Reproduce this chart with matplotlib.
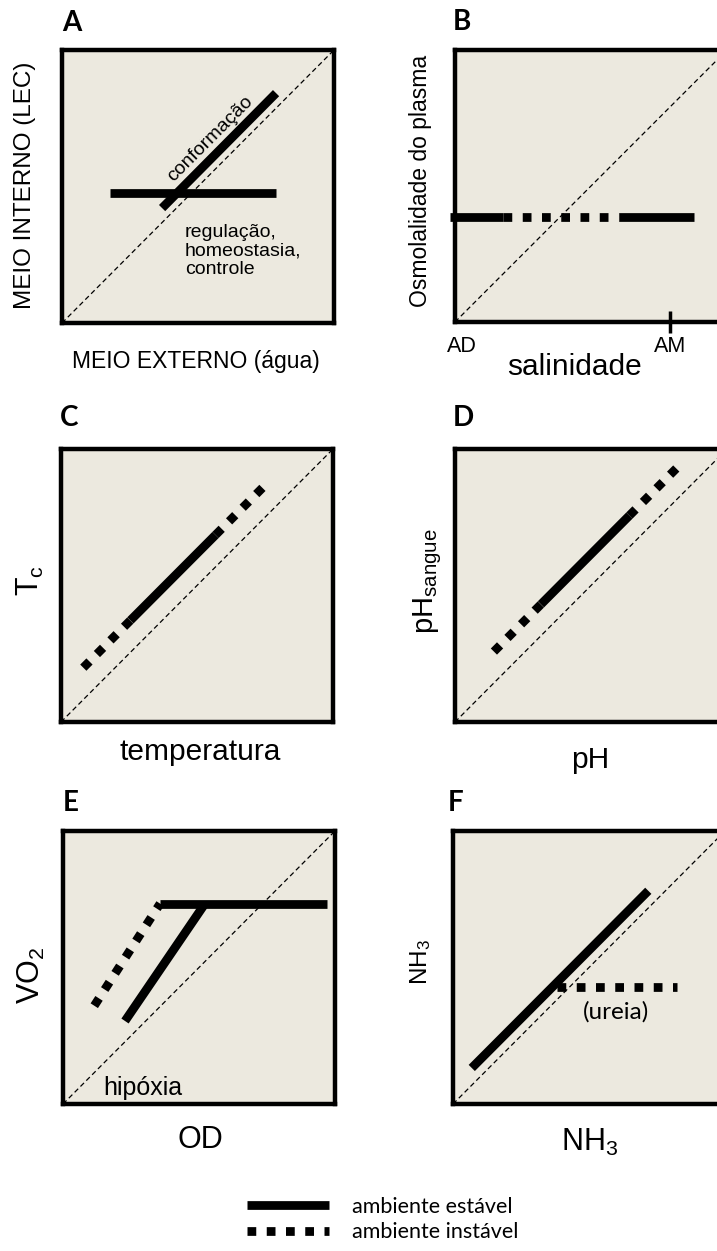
import matplotlib
matplotlib.use("Agg")
import matplotlib.pyplot as plt
from matplotlib.lines import Line2D

plt.rcParams['mathtext.default'] = 'regular'

W, H = 717, 1251
BG = '#ECE9DF'
ARIAL = 'Liberation Sans'
CALIBRI = 'Lato'

LW = 6.3
DOTS = (0, (1, 1.2))

# panel A: regulação (horizontal) e conformação (paralela à diagonal)
reg_x = [0.176, 0.787]
reg_y = [0.476, 0.476]
conf_x = [0.368, 0.787]
conf_y = [0.421, 0.842]

# panel B: osmolalidade constante ao longo da salinidade
osmo_y = 0.386
osmo_solid_x = [[-0.018, 0.176], [0.604, 0.880]]
osmo_dot_x = [0.176, 0.604]
am_x = 0.79

# panel C: Tc acompanha a temperatura
tc_off = 0.117
tc_solid_x = [0.255, 0.568]
tc_dot_x = [[0.082, 0.255], [0.568, 0.750]]

# panel D: pH sangue
ph_off = 0.115
ph_solid_x = [0.316, 0.641]
ph_dot_x = [[0.143, 0.316], [0.641, 0.815]]

# panel E: VO2 x OD
vo_plateau_x = [0.357, 0.971]
vo_plateau_y = [0.734, 0.734]
vo_solid_x = [0.228, 0.522]
vo_solid_y = [0.304, 0.734]
vo_dot_x = [0.115, 0.357]
vo_dot_y = [0.360, 0.734]

# panel F: NH3
nh_solid_x = [0.069, 0.718]
nh_solid_y = [0.132, 0.781]
nh_dot_x = [0.381, 0.822]
nh_dot_y = [0.429, 0.429]

fig = plt.figure(figsize=(W / 100, H / 100), dpi=100)


def box(left, top, w=272, h=273):
    return [left / W, 1 - (top + h) / H, w / W, h / H]


def ft(x, y, s, **kw):
    fig.text(x / W, 1 - y / H, s, **kw)


def painel(rect):
    ax = fig.add_axes(rect)
    ax.set_facecolor(BG)
    ax.set_xlim(0, 1)
    ax.set_ylim(0, 1)
    ax.set_xticks([])
    ax.set_yticks([])
    for s in ax.spines.values():
        s.set_linewidth(3.2)
        s.set_color('black')
    ax.plot([0, 1], [0, 1], color='black', lw=0.9, ls=(0, (4, 2.6)), zorder=1)
    return ax


def solido(ax, x, y, **kw):
    ax.plot(x, y, color='black', lw=LW, solid_capstyle='butt', zorder=3, **kw)


def pontilhado(ax, x, y, **kw):
    ax.plot(x, y, color='black', lw=LW, ls=DOTS, dash_capstyle='butt', zorder=3, **kw)


# A
axA = painel(box(62, 50))
solido(axA, reg_x, reg_y)
solido(axA, conf_x, conf_y)
axA.text(0.544, 0.674, 'conformação', rotation=45, rotation_mode='anchor',
         ha='center', va='center', family=ARIAL, fontsize=14)
ft(185, 251, 'regulação,\nhomeostasia,\ncontrole', ha='left', va='center',
   family=ARIAL, fontsize=14, linespacing=1.1)

# B
axB = painel(box(455, 50, h=272))
for xs in osmo_solid_x:
    solido(axB, xs, [osmo_y, osmo_y], clip_on=False)
pontilhado(axB, osmo_dot_x, [osmo_y, osmo_y])
axB.set_xticks([am_x])
axB.tick_params(axis='x', direction='inout', length=16.5, width=2.5,
                labelbottom=False, color='black')

# C
axC = painel(box(61, 449))
solido(axC, tc_solid_x, [v + tc_off for v in tc_solid_x])
for xs in tc_dot_x:
    pontilhado(axC, xs, [v + tc_off for v in xs])

# D
axD = painel(box(455, 449))
solido(axD, ph_solid_x, [v + ph_off for v in ph_solid_x])
for xs in ph_dot_x:
    pontilhado(axD, xs, [v + ph_off for v in xs])

# E
axE = painel(box(63, 831))
solido(axE, vo_plateau_x, vo_plateau_y)
solido(axE, vo_solid_x, vo_solid_y)
pontilhado(axE, vo_dot_x, vo_dot_y)
ft(103, 1088, 'hipóxia', ha='left', va='center', family=ARIAL, fontsize=18)

# F
axF = painel(box(453, 831))
solido(axF, nh_solid_x, nh_solid_y)
pontilhado(axF, nh_dot_x, nh_dot_y)
ft(616, 1012, '(ureia)', ha='center', va='center', family=CALIBRI, fontsize=17.5)

# letras dos painéis
for lx, ly, s in [(62, 23, 'A'), (453, 22, 'B'), (60, 418, 'C'),
                  (453, 418, 'D'), (63, 803, 'E'), (448, 803, 'F')]:
    ft(lx, ly, s, ha='left', va='center', family=CALIBRI, fontweight='bold', fontsize=20)

# rótulos dos eixos
ft(25, 185, 'MEIO INTERNO (LEC)', rotation=90, ha='center', va='center', family=ARIAL, fontsize=17.5)
ft(196, 361, 'MEIO EXTERNO (água)', ha='center', va='center', family=ARIAL, fontsize=16.5)
ft(421, 181, 'Osmolalidade do plasma', rotation=90, ha='center', va='center', family=ARIAL, fontsize=16.5)
ft(462, 346, 'AD', ha='center', va='center', family=ARIAL, fontsize=15.5)
ft(670, 346, 'AM', ha='center', va='center', family=ARIAL, fontsize=15.5)
ft(575, 367, 'salinidade', ha='center', va='center', family=ARIAL, fontsize=21.5)
ft(30, 580, 'T$_c$', rotation=90, ha='center', va='center', family=ARIAL, fontsize=22)
ft(200, 752, 'temperatura', ha='center', va='center', family=ARIAL, fontsize=21.5)
ft(428, 581, 'pH$_{sangue}$', rotation=90, ha='center', va='center', family=ARIAL, fontsize=21)
ft(590, 760, 'pH', ha='center', va='center', family=ARIAL, fontsize=21.5)
ft(31, 975, 'VO$_2$', rotation=90, ha='center', va='center', family=ARIAL, fontsize=22)
ft(200, 1140, 'OD', ha='center', va='center', family=ARIAL, fontsize=22)
ft(421, 962, 'NH$_3$', rotation=90, ha='center', va='center', family=ARIAL, fontsize=17.5)
ft(590, 1142, 'NH$_3$', ha='center', va='center', family=ARIAL, fontsize=22)

# legenda
handles = [Line2D([], [], color='black', lw=LW, solid_capstyle='butt'),
           Line2D([], [], color='black', lw=LW, ls=DOTS, dash_capstyle='butt')]
fig.legend(handles, ['ambiente estável', 'ambiente instável'],
           loc='center left', bbox_to_anchor=(246.7 / W, 1 - 1219.5 / H),
           frameon=False, borderpad=0, borderaxespad=0, handlelength=3.8,
           handletextpad=1.1, labelspacing=0.25,
           prop={'family': CALIBRI, 'size': 15.5})

fig.savefig('out.png', dpi=100)
